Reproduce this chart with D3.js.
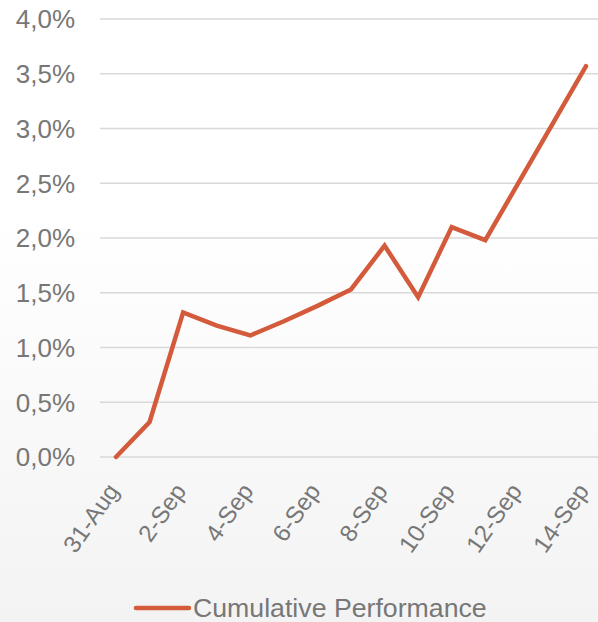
<!DOCTYPE html>
<html>
<head>
<meta charset="utf-8">
<script src="https://cdn.jsdelivr.net/npm/d3@7"></script>
<style>
  html, body { margin: 0; padding: 0; background: #ffffff; }
  svg { display: block; }
</style>
</head>
<body>
<script>
// Daily dates on the category axis
const dates = ["31-Aug", "1-Sep", "2-Sep", "3-Sep", "4-Sep", "5-Sep", "6-Sep", "7-Sep",
               "8-Sep", "9-Sep", "10-Sep", "11-Sep", "12-Sep", "13-Sep", "14-Sep"];
// Cumulative performance, in percent
const performance = [0.00, 0.32, 1.32, 1.20, 1.11, 1.24, 1.38, 1.53,
                     1.93, 1.46, 2.10, 1.98, 2.51, 3.04, 3.57];
// Axis ticks
const yTicks = [0, 0.5, 1.0, 1.5, 2.0, 2.5, 3.0, 3.5, 4.0];
const xTickLabels = ["31-Aug", "2-Sep", "4-Sep", "6-Sep", "8-Sep", "10-Sep", "12-Sep", "14-Sep"];
const seriesName = "Cumulative Performance";

const W = 598, H = 622;
const lineColor = "#D35B3C";
const textColor = "#777777";
const font = "'Liberation Sans', Arial, sans-serif";

const svg = d3.select("body").append("svg")
  .attr("width", W).attr("height", H);

// Soft white-to-grey background
const grad = svg.append("defs").append("linearGradient")
  .attr("id", "bg").attr("x1", 0).attr("y1", 0).attr("x2", 0).attr("y2", 1);
grad.append("stop").attr("offset", "0%").attr("stop-color", "#ffffff");
grad.append("stop").attr("offset", "35%").attr("stop-color", "#ffffff");
grad.append("stop").attr("offset", "100%").attr("stop-color", "#f3f3f3");
svg.append("rect").attr("width", W).attr("height", H).attr("fill", "url(#bg)");

const x = d3.scalePoint().domain(dates).range([116, 586]);
const y = d3.scaleLinear().domain([0, 4]).range([457, 19]);

// Horizontal gridlines
svg.append("g").selectAll("line").data(yTicks).join("line")
  .attr("x1", 100).attr("x2", W)
  .attr("y1", d => y(d)).attr("y2", d => y(d))
  .attr("stroke", "#d9d9d9").attr("stroke-width", 1.4);

// Y axis labels
const fmt = d => d.toFixed(1).replace(".", ",") + "%";
svg.append("g").selectAll("text").data(yTicks).join("text")
  .attr("x", 75).attr("y", d => y(d))
  .attr("dy", "0.36em")
  .attr("text-anchor", "end")
  .attr("font-family", font).attr("font-size", 26)
  .attr("fill", textColor)
  .text(fmt);

// X axis labels, rotated
svg.append("g").selectAll("text").data(xTickLabels).join("text")
  .attr("transform", d => `translate(${x(d) + 4},${491}) rotate(-55)`)
  .attr("text-anchor", "end")
  .attr("font-family", font).attr("font-size", 24)
  .attr("fill", textColor)
  .text(d => d);

// Performance line
const line = d3.line()
  .x((d, i) => x(dates[i]))
  .y(d => y(d));
svg.append("path")
  .datum(performance)
  .attr("d", line)
  .attr("fill", "none")
  .attr("stroke", lineColor)
  .attr("stroke-width", 4.5)
  .attr("stroke-linejoin", "miter")
  .attr("stroke-linecap", "round");

// Legend
const legend = svg.append("g");
legend.append("line")
  .attr("x1", 136).attr("x2", 189).attr("y1", 608).attr("y2", 608)
  .attr("stroke", lineColor).attr("stroke-width", 4.5).attr("stroke-linecap", "round");
legend.append("text")
  .attr("x", 193).attr("y", 617)
  .attr("font-family", font).attr("font-size", 26.7)
  .attr("fill", textColor)
  .text(seriesName);
</script>
</body>
</html>
